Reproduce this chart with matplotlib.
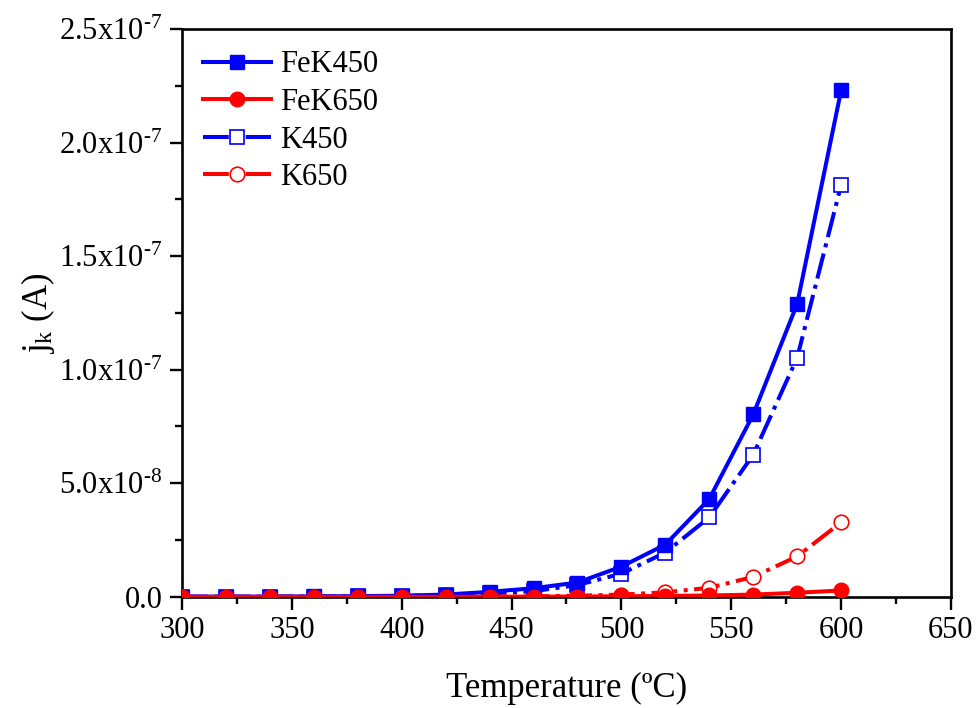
import matplotlib
matplotlib.use('Agg')
import matplotlib.pyplot as plt
from matplotlib.ticker import MultipleLocator, FuncFormatter

plt.rcParams['font.family'] = ['Liberation Serif', 'DejaVu Serif']
plt.rcParams['mathtext.fontset'] = 'custom'
plt.rcParams['mathtext.rm'] = 'Liberation Serif'
plt.rcParams['mathtext.it'] = 'Liberation Serif:italic'

temp = [300, 320, 340, 360, 380, 400, 420, 440, 460, 480, 500, 520, 540, 560, 580, 600]

fek450 = [0.1e-9, 0.1e-9, 0.1e-9, 0.2e-9, 0.3e-9, 0.5e-9, 1.0e-9, 2.2e-9, 3.8e-9, 6.3e-9,
          1.33e-8, 2.3e-8, 4.31e-8, 8.03e-8, 1.29e-7, 2.23e-7]
fek650 = [0, 0, 0, 0, 0, 0, 0, 0.05e-9, 0.1e-9, 0.15e-9,
          0.25e-9, 0.4e-9, 0.6e-9, 1.0e-9, 1.8e-9, 2.8e-9]
k450 = [0.1e-9, 0.1e-9, 0.1e-9, 0.15e-9, 0.2e-9, 0.4e-9, 0.8e-9, 1.5e-9, 2.5e-9, 5.2e-9,
        1.02e-8, 1.95e-8, 3.5e-8, 6.26e-8, 1.053e-7, 1.814e-7]
k650 = [0, 0, 0, 0, 0, 0, 0.05e-9, 0.1e-9, 0.2e-9, 0.5e-9,
        1.0e-9, 2.0e-9, 4.0e-9, 8.8e-9, 1.78e-8, 3.28e-8]

fig = plt.figure(figsize=(9.8, 7.08), dpi=100)
ax = fig.add_axes([0.1857, 0.157, 0.7847, 0.802])

ms = 10.5
lw = 2.9
ax.plot(temp, fek450, '-', color='#0000ff', lw=lw, marker='s', ms=ms, label='FeK450', zorder=4)
ax.plot(temp, fek650, '-', color='#ff0000', lw=lw, marker='o', ms=ms, label='FeK650', zorder=4)
ax.plot(temp, k450, '-.', color='#0000ff', lw=lw, marker='s', ms=ms, mfc='white', mew=1.2,
        label='K450', zorder=3)
ax.plot(temp, k650, '-.', color='#ff0000', lw=lw, marker='o', ms=ms, mfc='white', mew=1.2,
        label='K650', zorder=3)

ax.set_xlim(300, 650)
ax.set_ylim(0, 2.5e-7)
ax.xaxis.set_major_locator(MultipleLocator(50))
ax.xaxis.set_minor_locator(MultipleLocator(25))
ax.yaxis.set_major_locator(MultipleLocator(0.5e-7))
ax.yaxis.set_minor_locator(MultipleLocator(0.25e-7))


def sci(v, pos):
    if abs(v) < 1e-20:
        return '0.0'
    exp = int(('%e' % v).split('e')[1])
    mant = v / 10 ** exp
    return r'%.1fx10$^{\text{-%d}}$' % (mant, -exp)


ax.yaxis.set_major_formatter(FuncFormatter(sci))
ax.tick_params(which='both', direction='out', top=False, right=False, labelsize=22, width=1.7)
ax.tick_params(which='major', length=9, pad=5)
ax.tick_params(which='minor', length=5)
for sp in ax.spines.values():
    sp.set_linewidth(1.9)

ax.set_xlabel('Temperature (ºC)', fontsize=25, labelpad=19)
ax.set_ylabel(r'j$_\mathrm{k}$ (A)', fontsize=25, labelpad=2)

ax.legend(loc='upper left', frameon=False, fontsize=22, handlelength=2.2,
          borderaxespad=0.3, labelspacing=0.28, handletextpad=0.3)

fig.savefig('out.png', dpi=100)
